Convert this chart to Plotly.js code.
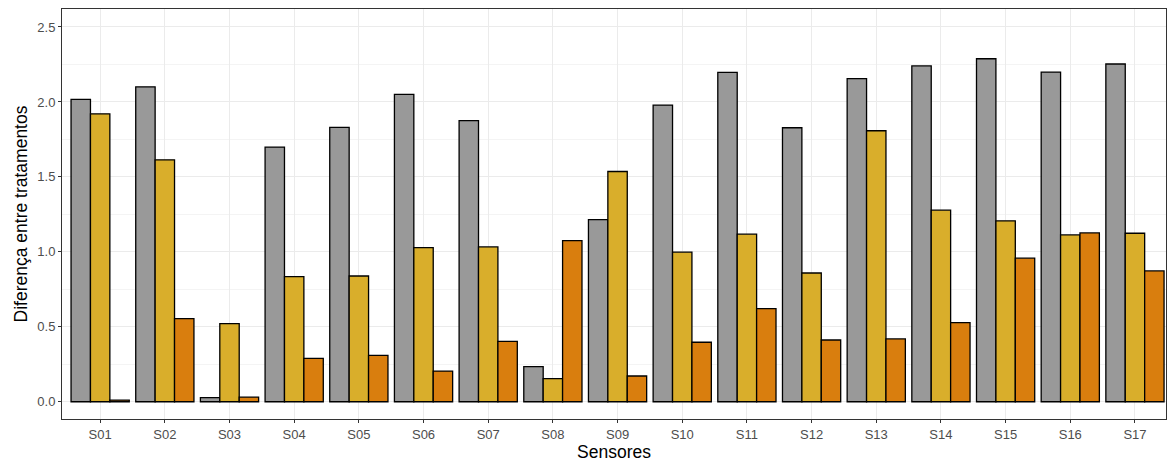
<!DOCTYPE html>
<html>
<head>
<meta charset="utf-8">
<script src="https://cdn.plot.ly/plotly-3.0.1.min.js"></script>
<style>html,body{margin:0;padding:0;overflow:hidden;background:#fff}</style>
</head>
<body>
<div id="chart" style="width:1167px;height:464px"></div>
<script>
const sensores = ["S01","S02","S03","S04","S05","S06","S07","S08","S09","S10","S11","S12","S13","S14","S15","S16","S17"];
const serieA = [2.017,2.101,0.027,1.699,1.830,2.050,1.876,0.234,1.215,1.979,2.197,1.828,2.155,2.240,2.288,2.199,2.253];
const serieB = [1.921,1.614,0.521,0.835,0.839,1.028,1.033,0.154,1.536,0.998,1.118,0.859,1.808,1.278,1.207,1.113,1.124];
const serieC = [0.011,0.554,0.031,0.290,0.310,0.205,0.403,1.075,0.172,0.397,0.621,0.412,0.419,0.528,0.958,1.126,0.873];
const cores = ["#999999","#D9AE2B","#D97E0E"];

const series = [serieA, serieB, serieC];
const traces = series.map((vals, i) => ({
  type: "bar",
  x: sensores,
  y: vals,
  marker: {color: cores[i], line: {color: "#000000", width: 1.3}},
  showlegend: false,
  hoverinfo: "x+y"
}));

const layout = {
  width: 1167, height: 464,
  margin: {l: 62, r: 1, t: 9, b: 45},
  paper_bgcolor: "#ffffff",
  plot_bgcolor: "#ffffff",
  font: {family: "Liberation Sans, Arial, sans-serif", color: "#000"},
  barmode: "group",
  bargap: 0.1,
  bargroupgap: 0,
  xaxis: {
    type: "category",
    range: [-0.59, 16.48],
    showgrid: true, gridcolor: "#EBEBEB", gridwidth: 1,
    showline: true, linecolor: "#333333", linewidth: 1, mirror: true,
    ticks: "outside", ticklen: 3, tickcolor: "#333333", tickwidth: 1,
    tickfont: {size: 13, color: "#4D4D4D"},
    title: {text: "Sensores", font: {size: 17.5, color: "#000"}, standoff: 2},
    zeroline: false
  },
  yaxis: {
    range: [-0.115, 2.62],
    tickvals: [0, 0.5, 1.0, 1.5, 2.0, 2.5],
    ticktext: ["0.0","0.5","1.0","1.5","2.0","2.5"],
    showgrid: true, gridcolor: "#EBEBEB", gridwidth: 1,
    minor: {tickvals: [0.25, 0.75, 1.25, 1.75, 2.25], showgrid: true, gridcolor: "#F4F4F4", gridwidth: 1, ticks: ""},
    showline: true, linecolor: "#333333", linewidth: 1, mirror: true,
    ticks: "outside", ticklen: 3, tickcolor: "#333333", tickwidth: 1,
    tickfont: {size: 13, color: "#4D4D4D"},
    title: {text: "Diferença entre tratamentos", font: {size: 17.5, color: "#000"}, standoff: 5},
    zeroline: false
  }
};

Plotly.newPlot("chart", traces, layout, {displayModeBar: false, staticPlot: true});
</script>
</body>
</html>
